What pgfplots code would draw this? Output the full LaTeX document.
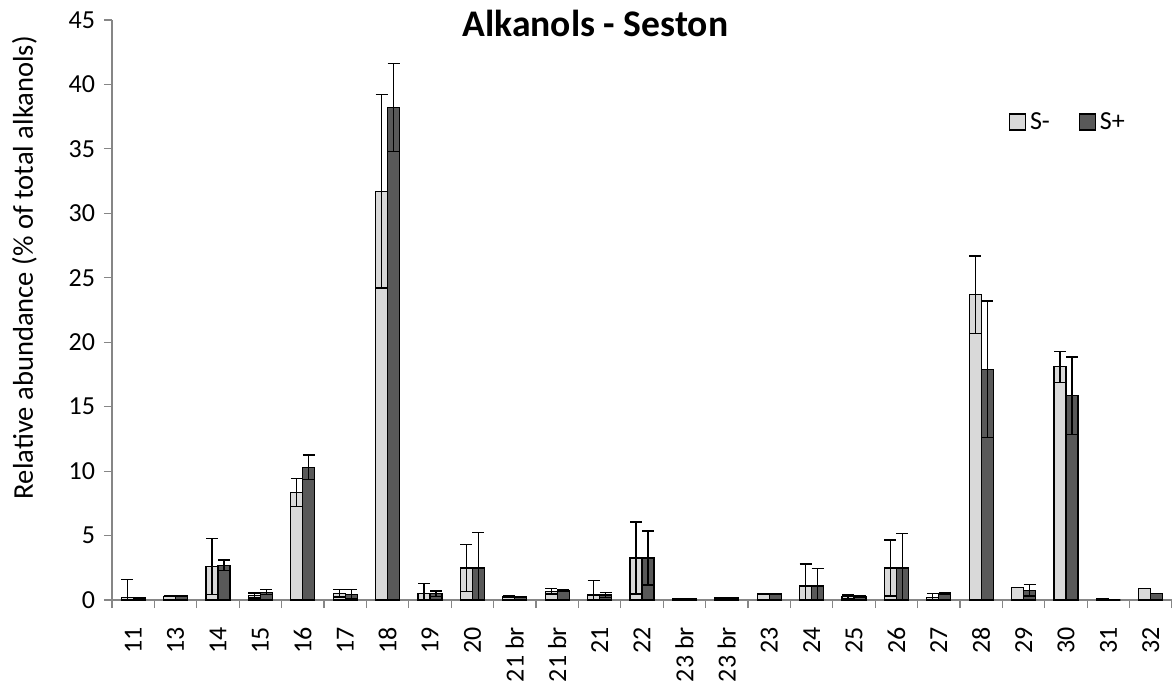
\documentclass[border=0pt]{standalone}
\usepackage{fontspec}
\setmainfont{Carlito}
\usepackage{pgfplots}
\usepackage{pgfplotstable}
\pgfplotsset{compat=1.18}
\usetikzlibrary{calc}

\definecolor{sminus}{HTML}{D9D9D9}
\definecolor{splus}{HTML}{595959}
\definecolor{axisgray}{HTML}{868686}

% idx  S-  err  S+  err
\pgfplotstableread{
x   sm     smerr  sp     sperr
0   0.18   1.40   0.15   0.00
1   0.29   0.03   0.29   0.03
2   2.60   2.15   2.70   0.40
3   0.35   0.20   0.60   0.20
4   8.35   1.10   10.30  0.95
5   0.52   0.28   0.44   0.36
6   31.70  7.50   38.20  3.40
7   0.49   0.78   0.49   0.20
8   2.48   1.80   2.48   2.77
9   0.26   0.05   0.26   0.02
10  0.67   0.20   0.75   0.05
11  0.39   1.10   0.39   0.18
12  3.26   2.80   3.26   2.10
13  0.10   0.00   0.10   0.00
14  0.18   0.02   0.18   0.02
15  0.45   0.05   0.49   0.03
16  1.09   1.70   1.09   1.37
17  0.26   0.13   0.26   0.05
18  2.48   2.17   2.48   2.70
19  0.20   0.30   0.49   0.05
20  23.70  3.00   17.90  5.30
21  0.98   0.00   0.75   0.45
22  18.10  1.20   15.85  3.00
23  0.10   0.00   0.00   0.00
24  0.90   0.00   0.50   0.00
}\alkanols

\begin{document}
\begin{tikzpicture}
\begin{axis}[
    name=ax,
    scale only axis,
    width=530pt, height=290pt,
    ybar=0pt, bar width=6pt,
    xmin=-0.5, xmax=24.5,
    ymin=0, ymax=45,
    ytick={0,5,...,45},
    xtick={0,...,24},
    xticklabels={11,13,14,15,16,17,18,19,20,21 br,21 br,21,22,23 br,23 br,23,24,25,26,27,28,29,30,31,32},
    minor xtick={-0.5,0.5,...,24.5},
    major x tick style={draw=none},
    axis x line*=bottom, axis y line*=left,
    axis line style={axisgray, line width=0.6pt},
    every tick/.style={axisgray, line width=0.6pt},
    tick align=outside,
    major tick length=4pt, minor tick length=4pt,
    ticklabel style={font=\fontsize{13}{15}\selectfont},
    /pgf/number format/assume math mode=true,
    xticklabel style={rotate=90, anchor=east},
    xticklabel shift=6pt,
    yticklabel style={xshift=-1pt},
    title={Alkanols - Seston},
    every axis title shift=0pt,
    title style={at={(rel axis cs:0.456,1)}, anchor=base, yshift=-8.5pt, font=\bfseries\fontsize{18.8}{22}\selectfont},
    ylabel={Relative abundance (\% of total alkanols)},
    every axis y label/.style={at={(rel axis cs:0,0.9845)}, xshift=-39.5pt, rotate=90, anchor=base east, font=\fontsize{14.3}{17}\selectfont},
    legend columns=2,
    legend style={at={(rel axis cs:0.840,0.824)}, anchor=west, draw=none, fill=none,
        font=\fontsize{13}{15}\selectfont,
        /tikz/every even column/.append style={column sep=12.5pt}},
    legend image code/.code={\draw[#1, draw=black, line width=0.6pt] (0pt,-4pt) rectangle (8pt,4pt);},
    every axis plot/.append style={
        error bars/y dir=both, error bars/y explicit,
        error bars/error bar style={black, line width=0.65pt},
        error bars/error mark options={rotate=90, black, mark size=3pt, line width=0.65pt}},
]
\addplot[fill=sminus, draw=black, line width=0.6pt] table[x=x, y=sm, y error=smerr] {\alkanols};
\addplot[fill=splus, draw=black, line width=0.6pt] table[x=x, y=sp, y error=sperr] {\alkanols};
\legend{S-, S+}
\end{axis}
\pgfresetboundingbox
\path[use as bounding box] ($(ax.south west)+(-56pt,-40pt)$) rectangle ($(ax.north east)+(0pt,10pt)$);
\end{tikzpicture}
\end{document}
